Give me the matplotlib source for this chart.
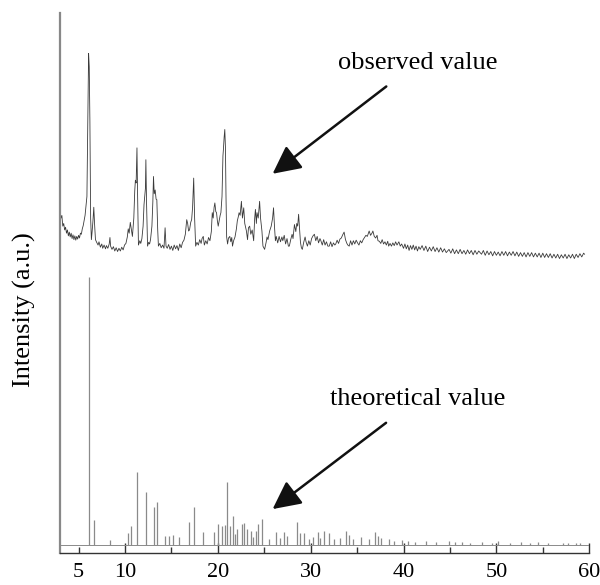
import numpy as np
import matplotlib
matplotlib.use("Agg")
import matplotlib.pyplot as plt

plt.rcParams['font.family'] = ['Liberation Serif', 'DejaVu Serif']

# observed pattern (2theta, intensity in a.u.)
obs_points = [
    (3.1, 62.0), (3.2, 62.5), (3.3, 60.5), (3.4, 61.0), (3.5, 59.8), (3.6, 60.3),
    (3.7, 59.2), (3.8, 59.8), (3.9, 58.7), (4.0, 59.4), (4.1, 58.5), (4.2, 59.2),
    (4.3, 58.2), (4.4, 58.9), (4.5, 58.0), (4.6, 58.7), (4.7, 57.9), (4.8, 58.6),
    (4.9, 58.1), (5.0, 58.8), (5.1, 58.3), (5.2, 59.2), (5.3, 59.0), (5.4, 60.0),
    (5.5, 60.6), (5.6, 61.5), (5.7, 62.5), (5.8, 64.2), (5.9, 66.0), (6.0, 80.0),
    (6.08, 92.5), (6.15, 90.0), (6.22, 80.0), (6.3, 62.0), (6.38, 58.0), (6.46, 59.5),
    (6.55, 61.5), (6.64, 64.0), (6.72, 61.0), (6.82, 58.0), (6.95, 57.5), (7.1, 57.0),
    (7.2, 57.6), (7.35, 56.6), (7.5, 57.2), (7.6, 56.4), (7.75, 57.0), (7.9, 56.3),
    (8.0, 56.9), (8.15, 56.4), (8.3, 57.2), (8.38, 58.4), (8.45, 56.8), (8.6, 56.2),
    (8.75, 56.7), (8.9, 55.9), (9.05, 56.5), (9.2, 55.8), (9.35, 56.4), (9.5, 55.9),
    (9.65, 56.6), (9.8, 56.1), (9.95, 57.0), (10.1, 57.3), (10.25, 58.5), (10.35, 60.0),
    (10.45, 59.2), (10.57, 61.2), (10.68, 59.9), (10.8, 58.6), (10.95, 62.0), (11.05, 67.0),
    (11.12, 69.0), (11.2, 68.5), (11.29, 75.0), (11.36, 66.0), (11.45, 57.0), (11.6, 57.8),
    (11.7, 57.3), (11.82, 58.2), (11.95, 60.5), (12.05, 64.5), (12.12, 66.0), (12.2, 67.5),
    (12.25, 72.8), (12.32, 65.0), (12.43, 56.8), (12.55, 57.5), (12.65, 57.2), (12.75, 58.0),
    (12.9, 60.5), (13.0, 65.0), (13.07, 69.7), (13.15, 66.5), (13.25, 67.2), (13.35, 65.5),
    (13.43, 65.4), (13.52, 60.0), (13.6, 56.8), (13.75, 57.3), (13.9, 56.5), (14.05, 57.0),
    (14.2, 56.4), (14.32, 60.2), (14.42, 56.8), (14.55, 56.4), (14.7, 57.1), (14.85, 56.2),
    (15.0, 56.8), (15.15, 56.0), (15.3, 57.0), (15.45, 56.3), (15.6, 56.9), (15.75, 56.0),
    (15.9, 57.2), (16.05, 56.5), (16.2, 57.5), (16.35, 57.9), (16.5, 59.0), (16.65, 61.7),
    (16.75, 61.0), (16.85, 59.6), (16.95, 59.8), (17.08, 61.2), (17.18, 61.7), (17.28, 64.0),
    (17.4, 69.4), (17.5, 62.0), (17.61, 56.8), (17.75, 57.5), (17.9, 57.0), (18.05, 58.0),
    (18.2, 57.3), (18.3, 58.2), (18.43, 58.6), (18.55, 57.0), (18.7, 57.8), (18.85, 57.2),
    (19.0, 58.4), (19.15, 57.8), (19.3, 59.5), (19.4, 63.0), (19.5, 62.0), (19.6, 64.0),
    (19.68, 64.8), (19.78, 63.2), (19.86, 63.0), (19.95, 61.5), (20.04, 60.5), (20.15, 61.5),
    (20.25, 62.5), (20.33, 63.0), (20.45, 66.0), (20.55, 73.5), (20.6, 74.7), (20.68, 77.0),
    (20.75, 78.4), (20.82, 75.0), (20.88, 66.0), (20.95, 58.5), (21.05, 57.2), (21.15, 58.3),
    (21.29, 58.6), (21.4, 57.6), (21.5, 58.4), (21.58, 56.8), (21.7, 57.8), (21.85, 58.5),
    (22.0, 60.0), (22.1, 61.5), (22.2, 62.2), (22.29, 63.0), (22.4, 62.5), (22.54, 65.1),
    (22.65, 62.0), (22.79, 63.9), (22.9, 61.0), (23.0, 60.2), (23.08, 59.6), (23.2, 58.0),
    (23.3, 60.2), (23.43, 60.5), (23.55, 59.0), (23.7, 59.8), (23.86, 57.8), (23.97, 62.0),
    (24.05, 63.6), (24.15, 61.0), (24.22, 63.0), (24.35, 62.0), (24.5, 65.1), (24.6, 62.0),
    (24.75, 59.6), (24.86, 56.8), (25.04, 56.2), (25.2, 57.5), (25.3, 58.5), (25.4, 58.0),
    (25.58, 59.6), (25.75, 60.5), (25.9, 62.0), (26.0, 63.9), (26.1, 60.5), (26.2, 57.8),
    (26.29, 58.6), (26.45, 57.4), (26.6, 58.6), (26.75, 57.6), (26.9, 58.5), (27.0, 57.8),
    (27.15, 58.8), (27.3, 57.2), (27.45, 58.2), (27.6, 56.8), (27.7, 56.8), (27.85, 58.0),
    (28.0, 59.0), (28.1, 58.2), (28.25, 60.8), (28.4, 59.5), (28.5, 61.0), (28.6, 60.5),
    (28.7, 62.7), (28.8, 60.0), (28.9, 57.5), (29.0, 56.5), (29.1, 56.2), (29.25, 57.5),
    (29.4, 58.5), (29.5, 57.6), (29.65, 56.8), (29.8, 57.8), (29.95, 57.0), (30.1, 58.2),
    (30.25, 58.7), (30.4, 59.0), (30.55, 57.8), (30.7, 58.6), (30.85, 57.4), (31.0, 58.2),
    (31.1, 57.8), (31.25, 57.0), (31.4, 58.0), (31.55, 57.0), (31.7, 57.6), (31.85, 56.8),
    (32.0, 56.8), (32.15, 57.6), (32.3, 56.7), (32.45, 57.4), (32.6, 57.0), (32.7, 57.2),
    (32.85, 57.9), (33.0, 57.3), (33.15, 58.1), (33.3, 58.3), (33.45, 58.9), (33.6, 59.4),
    (33.75, 58.0), (33.9, 57.3), (34.0, 57.0), (34.15, 56.8), (34.3, 57.8), (34.45, 57.0),
    (34.6, 57.8), (34.75, 57.2), (34.9, 57.9), (35.05, 57.4), (35.2, 57.0), (35.35, 57.8),
    (35.5, 57.4), (35.65, 58.0), (35.8, 58.4), (35.95, 58.8), (36.1, 58.6), (36.3, 59.6),
    (36.45, 58.8), (36.6, 59.2), (36.7, 59.6), (36.85, 58.6), (37.0, 58.3), (37.15, 58.8),
    (37.25, 57.8), (37.4, 57.7), (37.55, 57.3), (37.7, 58.0), (37.85, 57.2), (38.0, 57.6),
    (38.15, 57.0), (38.3, 57.7), (38.4, 56.8), (38.55, 57.3), (38.7, 56.8), (38.85, 57.4),
    (39.0, 56.9), (39.15, 57.6), (39.3, 57.0), (39.5, 57.6), (39.65, 56.8), (39.8, 57.2),
    (40.0, 56.4), (40.15, 57.2), (40.3, 56.3), (40.45, 57.0), (40.6, 56.0), (40.75, 56.9),
    (40.9, 56.2), (41.05, 57.0), (41.2, 56.1), (41.35, 56.8), (41.5, 55.9), (41.65, 56.7),
    (41.8, 56.2), (42.0, 56.9), (42.2, 56.0), (42.4, 56.8), (42.6, 55.8), (42.8, 56.6),
    (43.0, 55.9), (43.2, 56.7), (43.4, 55.8), (43.6, 56.5), (43.8, 55.7), (44.0, 56.5),
    (44.2, 55.7), (44.4, 56.3), (44.6, 55.6), (44.9, 56.2), (45.1, 55.5), (45.3, 56.3),
    (45.5, 55.4), (45.7, 56.1), (45.9, 55.4), (46.1, 56.2), (46.3, 55.4), (46.5, 56.0),
    (46.7, 55.3), (46.9, 56.1), (47.1, 55.4), (47.3, 56.0), (47.5, 55.2), (47.7, 56.0),
    (47.9, 55.3), (48.1, 55.9), (48.4, 55.3), (48.6, 56.0), (48.8, 55.1), (49.0, 55.9),
    (49.2, 55.2), (49.4, 55.8), (49.6, 55.0), (49.8, 55.8), (50.0, 55.1), (50.2, 55.7),
    (50.4, 55.0), (50.6, 55.8), (50.8, 55.1), (51.0, 55.8), (51.2, 55.0), (51.4, 55.7),
    (51.6, 55.1), (51.8, 55.8), (52.0, 55.0), (52.2, 55.7), (52.4, 54.9), (52.6, 55.6),
    (52.8, 54.9), (53.0, 55.6), (53.2, 54.8), (53.4, 55.6), (53.6, 54.9), (53.8, 55.6),
    (54.0, 54.8), (54.2, 55.5), (54.4, 54.8), (54.6, 55.5), (54.8, 54.7), (55.0, 55.5),
    (55.2, 54.7), (55.4, 55.4), (55.6, 54.7), (55.8, 55.4), (56.0, 54.6), (56.2, 55.3),
    (56.4, 54.6), (56.6, 55.3), (56.8, 54.5), (57.0, 55.2), (57.2, 54.6), (57.4, 55.3),
    (57.6, 54.5), (57.8, 55.2), (58.0, 54.6), (58.2, 55.3), (58.4, 54.5), (58.6, 55.3),
    (58.8, 54.7), (59.0, 55.4), (59.2, 54.8), (59.4, 55.5), (59.5, 55.3),
]

# calculated pattern: peak positions (2theta) and peak heights (a.u.)
theo_base = 1.5
theo_pos = [6.10, 6.68, 8.43, 10.29, 10.68, 11.29, 12.25, 13.11, 13.43, 14.32,
            14.75, 15.15, 15.86, 16.86, 17.47, 18.36, 19.54, 20.04, 20.40, 20.72,
            20.97, 21.33, 21.58, 21.80, 22.04, 22.65, 22.83, 23.15, 23.54, 23.80,
            24.15, 24.29, 24.75, 25.50, 26.22, 26.70, 27.18, 27.40, 28.50, 28.80,
            29.33, 29.80, 30.30, 30.83, 31.00, 31.47, 32.00, 32.50, 33.20, 33.80,
            34.15, 34.60, 35.40, 36.30, 36.94, 37.30, 37.60, 38.44, 39.00, 39.87,
            40.50, 41.20, 42.40, 43.50, 44.90, 45.50, 46.30, 47.20, 48.40, 49.50,
            50.20, 51.50, 52.70, 53.60, 54.50, 55.60, 57.20, 57.70, 58.60, 59.00]
theo_int = [51.0, 6.1, 2.3, 3.6, 5.0, 14.9, 11.2, 8.4, 9.5, 3.2,
            3.2, 3.3, 2.9, 5.7, 8.4, 3.8, 3.9, 5.4, 5.0, 5.2,
            13.2, 5.0, 6.8, 3.5, 4.4, 5.3, 5.6, 4.4, 4.1, 3.0,
            4.1, 5.3, 6.2, 2.5, 3.8, 2.7, 3.8, 3.2, 5.8, 3.7,
            3.7, 2.6, 3.0, 3.8, 2.8, 4.1, 3.7, 2.6, 2.8, 4.1,
            3.3, 2.5, 3.0, 2.6, 3.9, 3.2, 2.7, 2.5, 2.2, 2.3,
            2.1, 2.0, 2.2, 1.95, 2.2, 1.95, 2.0, 1.9, 2.0, 1.9,
            2.1, 1.9, 2.0, 1.85, 2.0, 1.8, 1.8, 1.85, 1.85, 1.8]

obs = np.array(obs_points)

fig = plt.figure(figsize=(6.0, 5.85), dpi=100)
ax = fig.add_axes([0.1, 0.055, 0.882, 0.923])

ax.plot(obs[:, 0], obs[:, 1], color='#3a3a3a', lw=0.6)
ax.axhline(theo_base, color='#8a8a8a', lw=0.7)
ax.vlines(theo_pos, theo_base, theo_int, color='#8a8a8a', lw=0.9)

ax.set_xlim(3, 60)
ax.set_ylim(0, 100)

ax.annotate('observed value', xy=(25.9, 70.2), xytext=(41.5, 90.8),
            ha='center', va='center', fontsize=19,
            arrowprops=dict(arrowstyle='-|>,head_length=0.9,head_width=0.45',
                            color='#111111', lw=1.8, shrinkA=12, shrinkB=0))
ax.annotate('theoretical value', xy=(25.9, 8.1), xytext=(41.5, 28.5),
            ha='center', va='center', fontsize=19,
            arrowprops=dict(arrowstyle='-|>,head_length=0.9,head_width=0.45',
                            color='#111111', lw=1.8, shrinkA=12, shrinkB=0))

for s in ['top', 'right']:
    ax.spines[s].set_visible(False)
ax.spines['left'].set_color('#888888')
ax.spines['left'].set_linewidth(1.6)
ax.spines['bottom'].set_color('#333333')
ax.spines['bottom'].set_linewidth(1.0)

ax.set_yticks([])
ax.set_xticks([10, 20, 30, 40, 50, 60])
ax.set_xticks([5, 15, 25, 35, 45, 55], minor=True)
ax.set_xticklabels(['10', '20', '30', '40', '50', '60'])
ax.set_xticklabels(['5', '', '', '', '', ''], minor=True)
ax.tick_params(axis='x', which='major', direction='in', length=7, width=1.0,
               color='#333333', labelsize=16, pad=7)
ax.tick_params(axis='x', which='minor', direction='in', length=4.5, width=1.0,
               color='#333333', labelsize=16, pad=7)

ax.set_ylabel('Intensity (a.u.)', fontsize=19)
ax.yaxis.set_label_coords(-0.045, 0.45)

fig.savefig('out.png', dpi=100)
